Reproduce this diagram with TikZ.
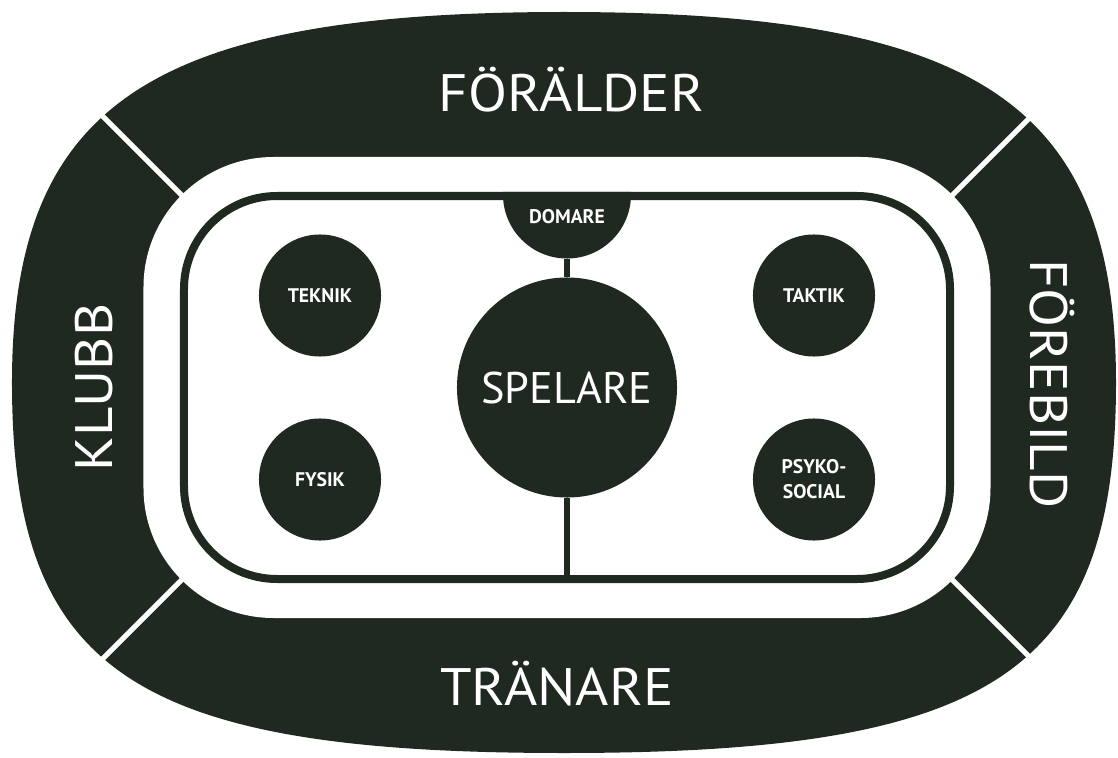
\documentclass[tikz,border=0pt]{standalone}
\usepackage{fontspec}
\setmainfont{PT Sans}
\newfontfamily\bandfont[FakeStretch=1.08]{PT Sans}
\usepackage{tikz}
\usetikzlibrary{
  	positioning,
  	calc
  }
\definecolor{rinkdark}{HTML}{1F2920}
\tikzstyle{ball}=[circle,fill=rinkdark,text=white,inner sep=0pt,minimum size=3.05cm,align=center,font=\bfseries\fontsize{14}{17.8}\selectfont]
\tikzstyle{bandtext}=[text=white,inner sep=0pt,anchor=base,font=\bandfont\fontsize{37.5}{40}\selectfont]
\tikzstyle{gap}=[draw=white,line width=0.125cm]
\tikzstyle{rinkline}=[draw=rinkdark,line width=0.2cm,rounded corners=2.325cm]
\tikzstyle{midline}=[draw=rinkdark,line width=0.15cm]

\begin{document}
\begin{tikzpicture}[x=0.025cm,y=0.025cm]
    \useasboundingbox (-567,-369.5) rectangle (551,387.5);
    \fill [rinkdark] (549,5)
       .. controls (549,282.9) and (411,375.5) .. (-3,375.5)
       .. controls (-417,375.5) and (-555,282.9) .. (-555,5)
       .. controls (-555,-284) and (-433.6,-365.5) .. (-3,-365.5)
       .. controls (427.6,-365.5) and (549,-284) .. (549,5)
       -- cycle;
    \coordinate (c1) at (-293.5,100.5);
    \coordinate (c2) at (293.5,100.5);
    \coordinate (c3) at (293.5,-100.5);
    \coordinate (c4) at (-293.5,-100.5);
    \draw [gap] (c1) -- ($(c1)+(135:320)$);
    \draw [gap] (c2) -- ($(c2)+(45:320)$);
    \draw [gap] (c3) -- ($(c3)+(-45:320)$);
    \draw [gap] (c4) -- ($(c4)+(-135:320)$);
    \fill [white,rounded corners=3.25cm] (-423.5,-230.5) rectangle (423.5,230.5);
    \begin{scope}
      \clip [rounded corners=2.425cm] (-387,-195.5) rectangle (387,195.5);
      \node [ball,minimum size=3.2cm] (domare) at (0,193) {};
      \node [text=white,inner sep=0pt,font=\bfseries\fontsize{14}{17.8}\selectfont] (domaretext) at ($(domare)+(0,-22)$) {DOMARE};
    \end{scope}
    \draw [rinkline] (-383,-191.5) rectangle (383,191.5);
    \node [ball,minimum size=5.5cm,font=\fontsize{31.5}{36}\selectfont] (spelare) at (0,0) {SPELARE};
    \coordinate (rinkbottom) at (0,-191.5);
    \draw [midline] (domare) -- (spelare);
    \draw [midline] (spelare) -- (rinkbottom);
    \path (spelare)++(-247,92) node [ball] (teknik) {TEKNIK};
    \path (spelare)++(247,92) node [ball] (taktik) {TAKTIK};
    \path (spelare)++(-247,-92) node [ball] (fysik) {FYSIK};
    \path (spelare)++(247,-92) node [ball] (psyko) {PSYKO-\\SOCIAL};
    \node [bandtext] (foralder) at (4.5,275.5) {FÖRÄLDER};
    \node [bandtext] (tranare) at (-10,-317.5) {TRÄNARE};
    \node [bandtext,rotate=90] (klubb) at (-454,0) {KLUBB};
    \node [bandtext,rotate=-90] (forebild) at (463,3.5) {FÖREBILD};
  \end{tikzpicture}
\end{document}
